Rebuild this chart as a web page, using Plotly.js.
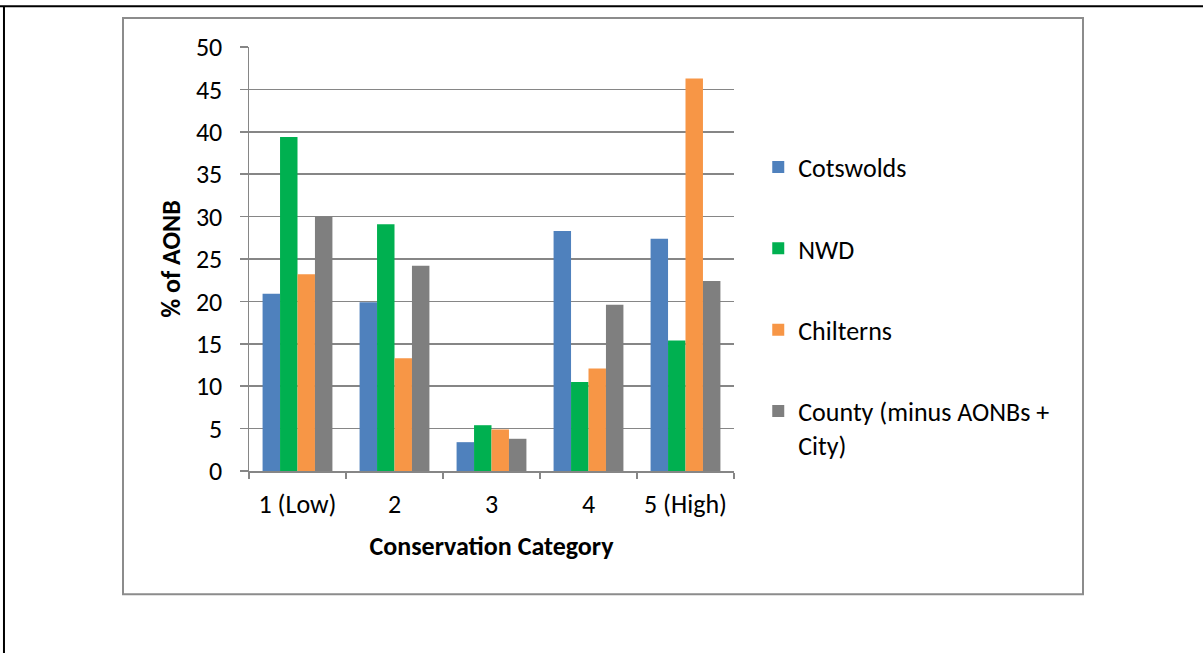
<!DOCTYPE html>
<html>
<head>
<meta charset="utf-8">
<script src="https://cdn.plot.ly/plotly-3.0.1.min.js"></script>
<style>
  html, body { margin: 0; padding: 0; background: #ffffff; }
  #chart { width: 1203px; height: 653px; }
</style>
</head>
<body>
<div id="chart"></div>
<script>
// Conservation categories along the x axis
const categories = ['1 (Low)', '2', '3', '4', '5 (High)'];

// Share of each area (%) falling in each conservation category
const cotswolds = [20.9, 19.9, 3.4, 28.3, 27.4];
const nwd       = [39.4, 29.1, 5.4, 10.5, 15.4];
const chilterns = [23.2, 13.3, 4.9, 12.1, 46.3];
const county    = [30.0, 24.2, 3.8, 19.6, 22.4];

const seriesNames = ['Cotswolds', 'NWD', 'Chilterns', 'County (minus AONBs +<br>City)'];
const seriesValues = [cotswolds, nwd, chilterns, county];
const seriesColors = ['#4F81BD', '#00B050', '#F79646', '#7F7F7F'];

const FONT = 'Carlito, Calibri, Lato, sans-serif';
const FS = 26;
const GRID = '#868686';

const traces = seriesNames.map((name, i) => ({
  type: 'bar',
  name: name,
  x: categories,
  y: seriesValues[i],
  legendgroup: 'g' + i,
  marker: { color: seriesColors[i], line: { width: 0 } },
  hoverinfo: 'x+y+name'
}));

const layout = {
  width: 1203,
  height: 653,
  paper_bgcolor: '#ffffff',
  plot_bgcolor: '#ffffff',
  margin: { l: 249, r: 469, t: 47, b: 182 },
  barmode: 'group',
  bargap: 0.28,
  bargroupgap: 0,
  font: { family: FONT, size: FS, color: '#000000' },
  xaxis: {
    type: 'category',
    showline: true,
    linecolor: GRID,
    linewidth: 1.5,
    ticks: 'outside',
    tickson: 'boundaries',
    ticklen: 6,
    tickcolor: GRID,
    tickwidth: 1.5,
    ticklabelstandoff: 9,
    showgrid: false,
    tickfont: { family: FONT, size: FS, color: '#000000' },
    title: {
      text: '<b>Conservation Category</b>',
      font: { family: FONT, size: FS, color: '#000000' },
      standoff: 18
    }
  },
  yaxis: {
    range: [0, 50],
    dtick: 5,
    showline: true,
    linecolor: GRID,
    linewidth: 1.5,
    ticks: 'outside',
    ticklen: 8,
    tickcolor: GRID,
    tickwidth: 1.5,
    showgrid: true,
    gridcolor: GRID,
    gridwidth: 1.5,
    zeroline: false,
    tickfont: { family: FONT, size: FS, color: '#000000' },
    ticklabelstandoff: 12,
    title: {
      text: '<b>% of AONB</b>',
      font: { family: FONT, size: FS, color: '#000000' },
      standoff: 8
    }
  },
  showlegend: true,
  legend: {
    x: 1.05,
    xanchor: 'left',
    y: 0.772,
    yanchor: 'top',
    traceorder: 'grouped',
    tracegroupgap: 44.5,
    valign: 'top',
    itemwidth: 30,
    font: { family: FONT, size: FS, color: '#000000' },
    bgcolor: 'rgba(0,0,0,0)'
  },
  shapes: [
    // outer page frame: top edge
    { type: 'line', xref: 'paper', yref: 'paper', x0: -0.52, x1: 1.98, y0: 1.0963, y1: 1.0963,
      line: { color: '#000000', width: 2 } },
    // outer page frame: left edge
    { type: 'line', xref: 'paper', yref: 'paper', x0: -0.5052, x1: -0.5052, y0: 1.0963, y1: -0.45,
      line: { color: '#000000', width: 2 } },
    // inner chart frame
    { type: 'rect', xref: 'paper', yref: 'paper',
      x0: -0.2598, x1: 1.7196, y0: -0.2904, y1: 1.0682,
      line: { color: '#8C8C8C', width: 2 }, fillcolor: 'rgba(0,0,0,0)', layer: 'below' }
  ]
};

Plotly.newPlot('chart', traces, layout, { displayModeBar: false, staticPlot: true });
</script>
</body>
</html>
